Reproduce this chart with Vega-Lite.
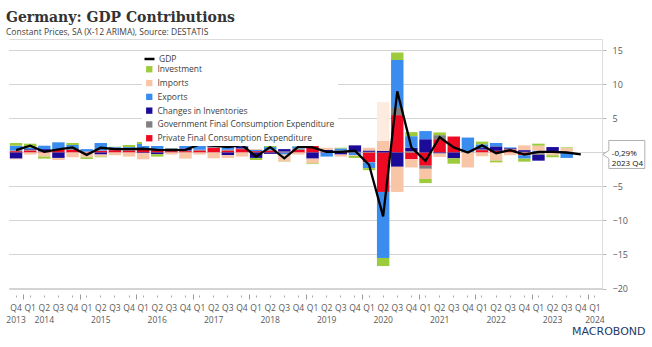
{
  "$schema": "https://vega.github.io/schema/vega-lite/v6.json",
  "width": 593,
  "height": 249.5,
  "autosize": "none",
  "padding": {"left": 9, "top": 39, "right": 50, "bottom": 58.5},
  "background": "white",
  "config": {"view": {"stroke": null}, "font": "Open Sans"},
  "title": {
    "text": "Germany: GDP Contributions",
    "subtitle": "Constant Prices, SA (X-12 ARIMA), Source: DESTATIS",
    "anchor": "start", "frame": "group",
    "font": "DejaVu Serif", "fontSize": 14, "fontWeight": "bold", "color": "#333333",
    "subtitleFont": "Open Sans", "subtitleFontSize": 8.5, "subtitleColor": "#404040",
    "subtitlePadding": 3, "offset": 3, "dx": -3
  },
  "datasets": {
    "d": [
      {"q":"2013 Q4","P":0.2,"G":0.1,"N":-0.9,"X":0.7,"M":-0.1,"K":0.4,"gdp":0.35},
      {"q":"2014 Q1","P":0.3,"G":0.1,"N":0.1,"X":0.2,"M":-0.3,"K":0.6,"gdp":1.0},
      {"q":"2014 Q2","P":0.1,"G":0.1,"N":0.3,"X":0.5,"M":-0.6,"K":-0.3,"gdp":0.1},
      {"q":"2014 Q3","P":0.4,"G":0.1,"N":-0.8,"X":1.0,"M":-0.3,"K":0.0,"gdp":0.45},
      {"q":"2014 Q4","P":0.4,"G":0.1,"N":0.1,"X":0.5,"M":-0.7,"K":0.3,"gdp":0.75},
      {"q":"2015 Q1","P":0.1,"G":0.05,"N":0.0,"X":0.35,"M":-0.7,"K":-0.25,"gdp":-0.35},
      {"q":"2015 Q2","P":0.25,"G":0.05,"N":-0.3,"X":1.1,"M":-0.3,"K":-0.1,"gdp":0.7},
      {"q":"2015 Q3","P":0.35,"G":0.15,"N":0.2,"X":0.1,"M":-0.4,"K":0.05,"gdp":0.5},
      {"q":"2015 Q4","P":0.3,"G":0.15,"N":0.05,"X":0.3,"M":-0.6,"K":0.3,"gdp":0.5},
      {"q":"2016 Q1","P":0.5,"G":0.15,"N":-0.1,"X":0.6,"M":-0.9,"K":0.3,"gdp":0.55},
      {"q":"2016 Q2","P":0.3,"G":0.1,"N":-0.25,"X":0.6,"M":0.0,"K":-0.35,"gdp":0.4},
      {"q":"2016 Q3","P":0.2,"G":0.1,"N":0.3,"X":0.0,"M":-0.3,"K":0.05,"gdp":0.35},
      {"q":"2016 Q4","P":0.2,"G":0.1,"N":0.3,"X":0.7,"M":-0.9,"K":0.0,"gdp":0.4},
      {"q":"2017 Q1","P":0.3,"G":0.1,"N":0.0,"X":0.9,"M":-0.3,"K":0.2,"gdp":1.2},
      {"q":"2017 Q2","P":0.7,"G":0.15,"N":0.25,"X":0.45,"M":-0.85,"K":0.3,"gdp":1.0},
      {"q":"2017 Q3","P":0.3,"G":0.1,"N":-0.4,"X":1.0,"M":-0.4,"K":0.2,"gdp":0.8},
      {"q":"2017 Q4","P":0.5,"G":0.1,"N":0.3,"X":0.7,"M":-0.6,"K":0.1,"gdp":1.1},
      {"q":"2018 Q1","P":0.2,"G":0.0,"N":-0.8,"X":0.2,"M":0.1,"K":-0.3,"gdp":-0.6},
      {"q":"2018 Q2","P":0.3,"G":0.1,"N":-0.2,"X":0.4,"M":0.0,"K":0.2,"gdp":0.8},
      {"q":"2018 Q3","P":0.1,"G":0.05,"N":0.35,"X":-0.3,"M":-1.0,"K":-0.05,"gdp":-0.85},
      {"q":"2018 Q4","P":0.4,"G":0.2,"N":0.0,"X":0.3,"M":-0.3,"K":0.25,"gdp":0.85},
      {"q":"2019 Q1","P":1.0,"G":0.1,"N":-0.9,"X":0.7,"XL":0.7,"M":-0.7,"K":-0.1,"gdp":0.75},
      {"q":"2019 Q2","P":0.1,"G":0.1,"N":0.2,"X":-0.6,"M":0.3,"K":0.0,"gdp":0.1},
      {"q":"2019 Q3","P":0.2,"G":0.1,"N":-0.3,"X":0.3,"M":-0.3,"K":0.1,"gdp":0.1},
      {"q":"2019 Q4","P":0.05,"G":0.05,"N":0.95,"X":-0.4,"M":-0.1,"K":-0.3,"gdp":0.25},
      {"q":"2020 Q1","P":-1.45,"G":0.1,"N":0.2,"X":-0.85,"M":0.4,"K":-0.3,"gdp":-1.8},
      {"q":"2020 Q2","P":-5.8,"G":0.0,"N":0.25,"X":-9.7,"M":1.45,"ML":5.7,"K":-1.2,"gdp":-9.4},
      {"q":"2020 Q3","P":5.5,"G":1.05,"N":-2.1,"X":7.05,"M":-3.7,"K":1.1,"gdp":9.0},
      {"q":"2020 Q4","P":-1.0,"G":0.2,"N":0.5,"X":1.7,"M":-1.2,"K":0.6,"gdp":0.75},
      {"q":"2021 Q1","P":-1.95,"G":-0.45,"N":1.95,"X":1.2,"M":-1.5,"K":-0.6,"gdp":-1.25},
      {"q":"2021 Q2","P":1.95,"G":0.6,"N":-0.15,"X":0.0,"M":-0.5,"K":0.4,"gdp":2.25},
      {"q":"2021 Q3","P":2.35,"G":0.0,"N":-0.85,"X":0.0,"M":0.0,"K":-0.8,"gdp":0.75},
      {"q":"2021 Q4","P":0.0,"G":0.1,"N":0.0,"X":2.1,"M":-2.2,"K":0.0,"gdp":0.0},
      {"q":"2022 Q1","P":0.35,"G":0.1,"N":0.2,"X":0.55,"M":-0.55,"K":0.4,"gdp":1.05},
      {"q":"2022 Q2","P":0.25,"G":0.0,"N":0.65,"X":0.5,"M":-1.2,"K":-0.25,"gdp":-0.1},
      {"q":"2022 Q3","P":0.45,"G":0.1,"N":0.1,"X":0.1,"M":-0.4,"K":0.0,"gdp":0.35},
      {"q":"2022 Q4","P":-0.4,"G":0.1,"N":0.25,"X":-0.5,"M":0.7,"K":-0.45,"gdp":-0.3},
      {"q":"2023 Q1","P":-0.1,"G":-0.25,"N":-0.85,"X":0.25,"M":0.75,"K":0.3,"gdp":0.1},
      {"q":"2023 Q2","P":0.05,"G":0.05,"N":0.7,"X":-0.1,"M":-0.3,"K":-0.3,"gdp":0.1},
      {"q":"2023 Q3","P":0.0,"G":0.1,"N":0.0,"X":-0.8,"M":0.55,"K":0.1,"gdp":0.0},
      {"q":"2023 Q4","gdp":-0.29}
    ],
    "last": [{"q":"2023 Q4","g":-0.29,"label":"-0,29%\n2023 Q4"}],
    "gridvals": [{"gv":-20},{"gv":-15},{"gv":-10},{"gv":-5},{"gv":0},{"gv":5},{"gv":10},{"gv":15}]
  },
  "layer": [
    {
      "data": {"name": "gridvals"},
      "mark": {"type": "rule", "color": "#d4d4d4", "strokeWidth": 1},
      "encoding": {
        "y": {"field": "gv", "type": "quantitative", "axis": null},
        "x": {"value": 0},
        "x2": {"value": "width"}
      }
    },
    {
      "data": {"name": "d"},
      "transform": [
        {"fold": ["P","G","N","X","XL","M","ML","K"], "as": ["s","v"]},
        {"filter": "isValid(datum.v)"},
        {"calculate": "indexof(['P','G','N','X','XL','M','ML','K'], datum.s)", "as": "o"}
      ],
      "mark": {"type": "bar"},
      "encoding": {
        "x": {
          "field": "q", "type": "ordinal",
          "scale": {
            "domain": ["2013 Q4","2014 Q1","2014 Q2","2014 Q3","2014 Q4","2015 Q1","2015 Q2","2015 Q3","2015 Q4","2016 Q1","2016 Q2","2016 Q3","2016 Q4","2017 Q1","2017 Q2","2017 Q3","2017 Q4","2018 Q1","2018 Q2","2018 Q3","2018 Q4","2019 Q1","2019 Q2","2019 Q3","2019 Q4","2020 Q1","2020 Q2","2020 Q3","2020 Q4","2021 Q1","2021 Q2","2021 Q3","2021 Q4","2022 Q1","2022 Q2","2022 Q3","2022 Q4","2023 Q1","2023 Q2","2023 Q3","2023 Q4","2024 Q1"],
            "paddingInner": 0.12, "paddingOuter": 0.06
          },
          "axis": {
            "orient": "bottom", "offset": 6.5, "domain": false, "ticks": true, "tickSize": 2, "tickColor": "#aaaaaa",
            "labelExpr": "slice(datum.label, 5)", "labelAngle": 0, "labelFontSize": 8.5, "labelColor": "#595959",
            "labelPadding": 6, "title": null, "grid": false
          }
        },
        "y": {
          "field": "v", "type": "quantitative", "stack": "zero",
          "scale": {"domain": [-20, 16.691176], "nice": false, "zero": false},
          "axis": {
            "orient": "right", "values": [-20,-15,-10,-5,0,5,10,15], "grid": true, "gridColor": "#d4d4d4", "gridWidth": 1,
            "domain": true, "domainColor": "#dddddd", "ticks": true, "tickSize": 4, "tickColor": "#bbbbbb",
            "labelExpr": "datum.value == 0 ? '' : datum.label", "labelOverlap": false,
            "labelColor": "#595959", "labelFontSize": 9, "labelPadding": 6, "title": null
          }
        },
        "color": {
          "field": "s", "type": "nominal",
          "scale": {
            "domain": ["K","M","X","N","G","P","XL","ML"],
            "range": ["#9dcb3c","#f8c5a6","#3a8def","#1c0a99","#808080","#ee0a23","#c6ddfa","#fdebe0"]
          },
          "legend": {
            "values": ["K","M","X","N","G","P"],
            "orient": "none", "legendX": 133, "legendY": 23, "title": null,
            "symbolType": "square", "symbolSize": 40, "symbolStrokeWidth": 0,
            "labelExpr": "{'K':'Investment','M':'Imports','X':'Exports','N':'Changes in Inventories','G':'Government Final Consumption Expenditure','P':'Private Final Consumption Expenditure'}[datum.label]",
            "labelFontSize": 8.5, "labelColor": "#404040", "labelLimit": 300, "labelOffset": 4,
            "rowPadding": 4.8, "fillColor": "white", "padding": 3
          }
        },
        "order": {"field": "o", "type": "quantitative", "sort": "ascending"}
      }
    },
    {
      "data": {"name": "d"},
      "mark": {"type": "line", "strokeWidth": 2.3},
      "encoding": {
        "x": {
          "field": "q", "type": "ordinal",
          "axis": {
            "orient": "bottom", "offset": 6.5, "domain": false, "ticks": false, "tickSize": 0,
            "labelExpr": "indexof(datum.label,'Q2')>=0 || datum.label=='2013 Q4' || datum.label=='2024 Q1' ? slice(datum.label,0,4) : ''",
            "labelAngle": 0, "labelPadding": 20, "labelFontSize": 8.5, "labelColor": "#595959", "grid": false,
            "encode": {"labels": {"update": {"dx": {"signal": "indexof(datum.value, 'Q2') >= 0 ? 7 : 0"}}}},
            "title": "MACROBOND", "titleX": 636, "titleY": 36, "titleAlign": "right", "titleBaseline": "middle",
            "titleFont": "DejaVu Sans", "titleFontSize": 11, "titleFontWeight": "normal", "titleColor": "#1f3a68"
          }
        },
        "y": {"field": "gdp", "type": "quantitative", "axis": null},
        "stroke": {
          "datum": "GDP", "type": "nominal",
          "scale": {"range": ["#000000"]},
          "legend": {
            "orient": "none", "legendX": 134, "legendY": 13.5, "title": null,
            "symbolType": "stroke", "symbolSize": 100, "symbolStrokeWidth": 2.5,
            "labelFontSize": 8.5, "labelColor": "#404040", "labelOffset": 3, "padding": 0
          }
        }
      }
    },
    {
      "data": {"name": "last"},
      "mark": {"type": "point", "shape": "M22,0L28,-4L28,-14L64,-14L64,14L28,14L28,4Z", "size": 4, "filled": true, "fill": "white", "stroke": "#b0b0b0", "strokeWidth": 1, "opacity": 1},
      "encoding": {
        "x": {
          "field": "q", "type": "ordinal",
          "axis": {
            "orient": "bottom", "offset": 5.5, "bandPosition": 0,
            "values": ["2014 Q1","2015 Q1","2016 Q1","2017 Q1","2018 Q1","2019 Q1","2020 Q1","2021 Q1","2022 Q1","2023 Q1","2024 Q1"],
            "labels": false, "domain": false, "ticks": true, "tickSize": 5, "tickColor": "#999999", "title": null, "grid": false
          }
        },
        "y": {"field": "g", "type": "quantitative", "axis": null}
      }
    },
    {
      "data": {"name": "last"},
      "mark": {"type": "text", "align": "left", "baseline": "middle", "dx": 31, "lineBreak": "\n", "lineHeight": 10, "fontSize": 8, "color": "#111111"},
      "encoding": {
        "x": {
          "field": "q", "type": "ordinal",
          "axis": {"orient": "top", "domain": true, "domainColor": "#dcdcdc", "ticks": false, "labels": false, "title": null, "grid": false}
        },
        "y": {"field": "g", "type": "quantitative", "axis": null},
        "text": {"field": "label"}
      }
    }
  ],
  "resolve": {"axis": {"x": "independent", "y": "independent"}}
}
